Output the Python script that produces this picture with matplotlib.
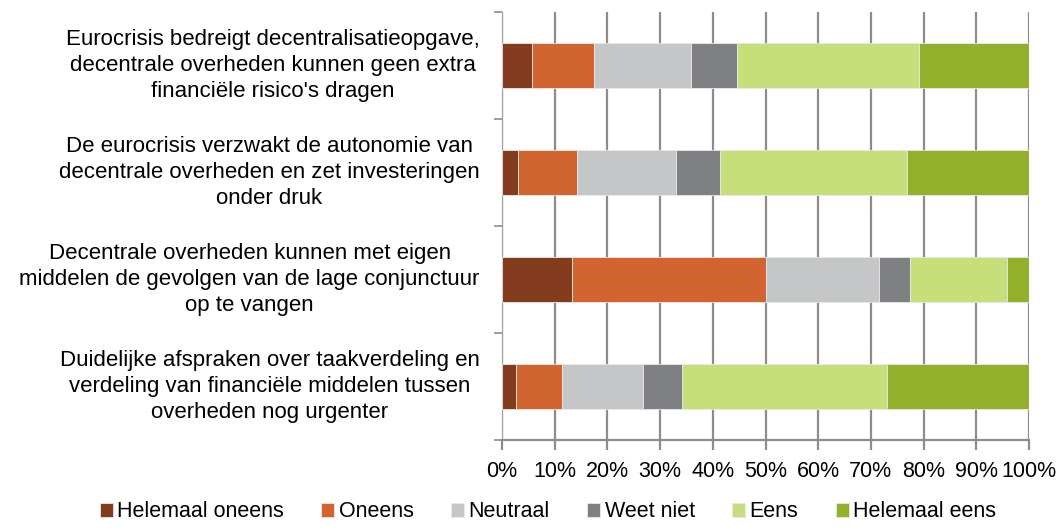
import numpy as np
import matplotlib
matplotlib.use('Agg')
import matplotlib.pyplot as plt
import matplotlib.transforms as mtransforms

# data, bovenste stelling eerst
stellingen = [
    "Eurocrisis bedreigt decentralisatieopgave,\ndecentrale overheden kunnen geen extra\nfinanciële risico's dragen",
    "De eurocrisis verzwakt de autonomie van\ndecentrale overheden en zet investeringen\nonder druk",
    "Decentrale overheden kunnen met eigen\nmiddelen de gevolgen van de lage conjunctuur\nop te vangen",
    "Duidelijke afspraken over taakverdeling en\nverdeling van financiële middelen tussen\noverheden nog urgenter",
]
antwoorden = ['Helemaal oneens', 'Oneens', 'Neutraal', 'Weet niet', 'Eens', 'Helemaal eens']

helemaal_oneens = [5.6, 3.1, 13.3, 2.6]
oneens = [11.9, 11.2, 36.7, 8.8]
neutraal = [18.3, 18.8, 21.6, 15.3]
weet_niet = [8.8, 8.3, 5.9, 7.4]
eens = [34.5, 35.4, 18.3, 39.0]
helemaal_eens = [20.9, 23.2, 4.2, 26.9]

kleuren = ['#843c1e', '#d26430', '#c5c6c8', '#7e8083', '#c7df7b', '#92b02a']

plt.rcParams['font.family'] = ['Liberation Sans', 'DejaVu Sans']

fig = plt.figure(figsize=(10.62, 5.30), dpi=100)
ax = fig.add_axes([502/1062, 90/530, 527/1062, 428/530])

reeksen = [helemaal_oneens, oneens, neutraal, weet_niet, eens, helemaal_eens]
y = np.arange(len(stellingen))[::-1]
links = np.zeros(len(stellingen))
for naam, vals, kl in zip(antwoorden, reeksen, kleuren):
    ax.barh(y, vals, left=links, height=0.42, color=kl, label=naam,
            edgecolor='#e8e8e8', linewidth=0.6, zorder=3)
    links += np.array(vals)

ax.set_xlim(0, 100)
ax.set_ylim(-0.5, len(stellingen) - 0.5)
ax.set_xticks(np.arange(0, 101, 10))
ax.set_xticklabels([f'{v}%' for v in range(0, 101, 10)], fontsize=15.5)
ax.xaxis.grid(True, color='#8c8c8c', linewidth=1.6, zorder=0)

ax.set_yticks(y)
ax.set_yticklabels(stellingen, fontsize=16, multialignment='center', linespacing=1.3)
ax.tick_params(axis='y', length=0, pad=16)
# labels iets hoger dan het midden van de balk
verschuif = mtransforms.ScaledTranslation(0, 5/100, fig.dpi_scale_trans)
for lab in ax.get_yticklabels():
    lab.set_transform(lab.get_transform() + verschuif)
ax.set_yticks(np.arange(-0.5, len(stellingen), 1), minor=True)
ax.tick_params(axis='y', which='minor', length=6, color='#8c8c8c', width=1.2)
ax.tick_params(axis='x', length=7, color='#8c8c8c', width=1.6, pad=8, direction='out')

for s in ['top', 'right']:
    ax.spines[s].set_visible(False)
ax.spines['left'].set_color('#a0a0a0')
ax.spines['bottom'].set_color('#8c8c8c')
ax.spines['bottom'].set_linewidth(1.6)

fig.legend(loc='lower center', bbox_to_anchor=(0.516, -0.022), ncol=6, frameon=False,
           fontsize=15.5, handlelength=0.6, handleheight=0.6, handletextpad=0.2,
           columnspacing=1.75)

fig.savefig('out.png', dpi=100)
